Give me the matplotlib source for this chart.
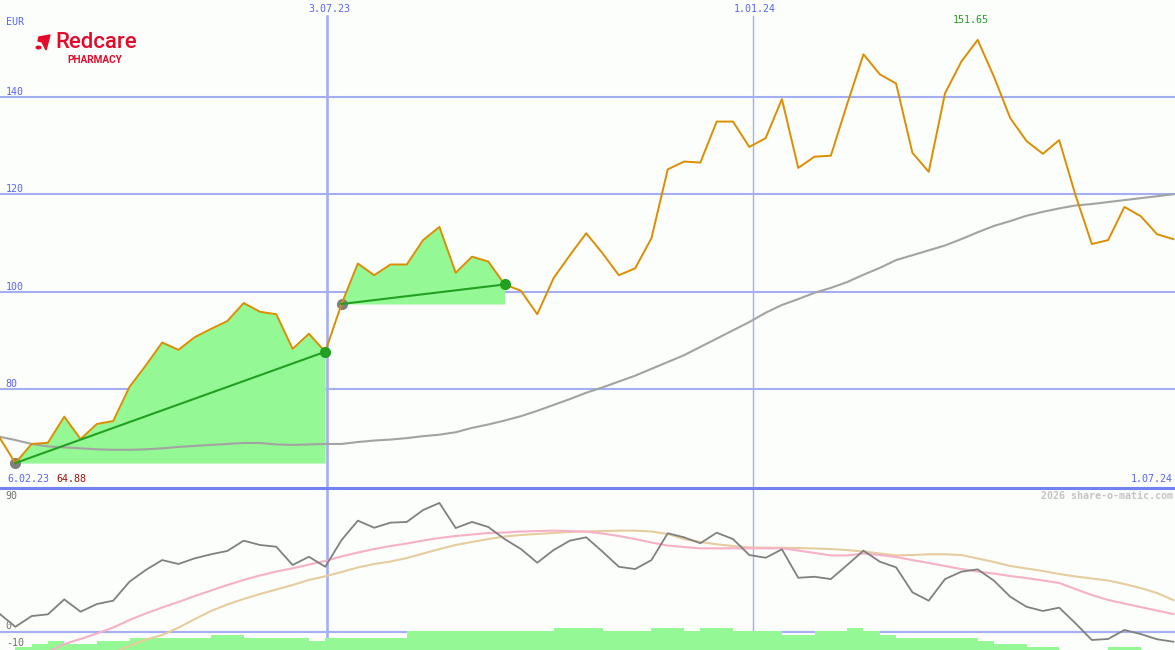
import matplotlib
matplotlib.use("Agg")
import matplotlib.pyplot as plt
from matplotlib.patches import Polygon, Circle
import numpy as np

W, H = 1175, 650
nan = np.nan

# weekly closes (EUR), one value per week
price = [70.3, 64.88, 68.8, 69.05, 74.4, 69.8, 72.9, 73.5, 80.5, 84.9,
         89.6, 88.1, 90.7, 92.4, 94.0, 97.7, 95.9, 95.4, 88.3, 91.4,
         87.7, 97.5, 105.8, 103.4, 105.6, 105.6, 110.6, 113.3, 103.9, 107.2,
         106.2, 101.5, 100.2, 95.4, 102.8, 107.5, 112.0, 107.9, 103.4, 104.8,
         111.0, 125.1, 126.7, 126.5, 134.9, 134.9, 129.7, 131.5, 139.5, 125.4,
         127.7, 127.9, 138.5, 148.7, 144.6, 142.7, 128.5, 124.6, 140.7, 147.2,
         151.65, 144.1, 135.6, 130.9, 128.3, 131.1, 119.8, 109.8, 110.6, 117.4,
         115.5, 111.8, 110.8]

# long moving average (gray)
ma_long = [70.3, 69.6, 68.8, 68.3, 68.1, 67.9, 67.7, 67.6, 67.6, 67.7,
           67.9, 68.2, 68.4, 68.6, 68.8, 69.0, 69.0, 68.7, 68.6, 68.7,
           68.8, 68.8, 69.2, 69.5, 69.7, 70.0, 70.4, 70.7, 71.2, 72.1,
           72.8, 73.6, 74.5, 75.6, 76.8, 78.0, 79.3, 80.4, 81.6, 82.8,
           84.2, 85.6, 87.0, 88.7, 90.4, 92.1, 93.8, 95.7, 97.3, 98.5,
           99.8, 100.8, 102.0, 103.5, 104.9, 106.5, 107.5, 108.5, 109.5, 110.8,
           112.2, 113.5, 114.5, 115.6, 116.4, 117.1, 117.7, 118.0, 118.4, 118.8,
           119.2, 119.6, 120.0]

# lower panel: oscillator and its two averages
osc = [12.7, 3.4, 10.8, 12.0, 22.3, 13.8, 19.1, 21.4, 34.5, 42.6,
       49.4, 46.7, 50.6, 53.4, 55.7, 62.8, 59.8, 58.6, 46.0, 51.7,
       44.8, 63.2, 76.6, 71.7, 75.2, 75.7, 83.9, 88.8, 71.5, 75.7,
       72.2, 63.9, 57.0, 47.6, 56.3, 62.8, 65.1, 55.2, 44.8, 43.2,
       49.4, 67.9, 65.1, 61.0, 68.3, 63.9, 52.9, 51.0, 56.8, 37.2,
       37.9, 36.3, 46.0, 55.9, 48.3, 44.4, 27.2, 21.4, 36.3, 41.4,
       43.0, 35.2, 24.1, 17.2, 14.3, 16.6, 5.8, -5.7, -5.0, 1.2,
       -1.6, -5.2, -6.9]

osc_fast = [nan, nan, nan, -14.0, -8.5, -5.0, -1.2, 2.9, 8.1, 12.6,
            16.7, 20.5, 24.6, 28.4, 32.2, 35.7, 38.8, 41.5, 43.7, 46.3,
            48.8, 51.9, 54.6, 57.0, 59.1, 60.8, 62.9, 64.6, 66.0, 67.0,
            68.1, 68.4, 69.1, 69.4, 69.7, 69.4, 69.0, 67.7, 66.0, 63.9,
            61.5, 59.4, 58.4, 57.5, 57.5, 57.5, 57.5, 57.5, 57.5, 56.0,
            54.3, 52.6, 52.6, 53.9, 52.9, 51.5, 49.4, 47.4, 45.3, 43.2,
            41.5, 40.1, 38.4, 37.0, 35.3, 33.6, 29.4, 25.3, 21.9, 19.4,
            17.0, 14.6, 12.2]

osc_slow = [nan, nan, nan, nan, nan, nan, nan, -14.7, -9.5, -5.4,
            -2.3, 2.8, 8.7, 14.3, 18.8, 22.6, 26.0, 29.1, 32.2, 35.7,
            38.2, 41.2, 44.3, 46.7, 48.4, 50.8, 53.9, 57.0, 59.8, 61.9,
            63.9, 65.7, 66.7, 67.4, 68.1, 68.8, 69.1, 69.4, 69.7, 69.7,
            69.1, 67.4, 63.9, 61.9, 60.3, 59.1, 58.1, 57.9, 57.9, 57.7,
            57.4, 57.0, 56.3, 55.3, 53.9, 52.6, 52.9, 53.4, 53.4, 52.9,
            50.5, 48.1, 45.3, 43.6, 41.9, 39.8, 38.1, 36.7, 35.3, 32.9,
            30.1, 26.7, 21.8]

# green histogram at the foot of the lower panel (top level of each bar)
bar_level = [nan, -10.8, -8.5, -6.4, -8.5, -8.5, -6.4, -6.4, -4.6, -4.6,
             -4.6, -4.6, -4.6, -2.3, -2.3, -4.6, -4.6, -4.6, -4.6, -6.4,
             -4.6, -4.6, -4.6, -4.6, -4.6, 0.5, 0.5, 0.5, 0.5, 0.5,
             0.5, 0.5, 0.5, 0.5, 2.8, 2.8, 2.8, 0.5, 0.5, 0.5,
             2.8, 2.8, 0.5, 2.8, 2.8, 0.5, 0.5, 0.5, -2.3, -2.3,
             0.5, 0.5, 2.8, 0.5, -2.3, -4.6, -4.6, -4.6, -4.6, -4.6,
             -6.4, -8.5, -8.5, -10.5, -10.5, nan, nan, nan, -10.5, -10.5,
             nan, nan, nan]

# trend segments (start week, end week)
seg_start = [1, 21]
seg_end = [20, 31]

price_ticks = [80, 100, 120, 140]
date_pos = [20.1, 46.2]
date_labels = ["3.07.23", "1.01.24"]
low_date, low_value = "6.02.23", "64.88"
high_label = "151.65"
end_date = "1.07.24"

BG = "#fcfefb"
GRID = "#a4aef2"
BLUE_TXT = "#5a64f0"
ORANGE = "#dc8e02"
FILL = "#94f894"
GREEN = "#22a022"
RED = "#e30a2b"
MONO = "DejaVu Sans Mono"
FS = 7.2

x = np.arange(len(price))
xlim = (0.06, 72.1)
TOP = 159.83
PXU = 4.877  # pixels per EUR in the price panel

fig = plt.figure(figsize=(W / 100, H / 100), dpi=100, facecolor=BG)
ax = fig.add_axes([0, 162 / H, 1, 488 / H], facecolor=BG)
ax2 = fig.add_axes([0, 0, 1, 162 / H], facecolor=BG)

for a in (ax, ax2):
    a.set_xlim(*xlim)
    a.set_xticks([])
    a.set_yticks([])
    for s in a.spines.values():
        s.set_visible(False)

# ---- price panel
ax.set_ylim(59.77, TOP)
ytr = ax.get_yaxis_transform()
for t in price_ticks:
    ax.axhline(t, color=GRID, lw=1.5, zorder=1)
    ax.text(0.005, t, str(t), color=BLUE_TXT, fontsize=FS, family=MONO,
            va="bottom", ha="left", zorder=6, transform=ytr)
ax.axvline(date_pos[0], ymax=(488 - 16) / 488, color=GRID, lw=1.9, zorder=1)
ax.axvline(date_pos[1], ymax=(488 - 16) / 488, color=GRID, lw=1.0, zorder=1)
for p, lab in zip(date_pos, date_labels):
    ax.text(p + 0.15, TOP - 9 / PXU, lab, color=BLUE_TXT, fontsize=FS,
            family=MONO, ha="center", va="center")

p = np.array(price)
for s, e in zip(seg_start, seg_end):
    xs = x[s:e + 1]
    ax.fill_between(xs, p[s], p[s:e + 1], color=FILL, lw=0, zorder=2)

ax.plot(x, ma_long, color="#a3a3a3", lw=1.5, zorder=3)

for s, e in zip(seg_start, seg_end):
    ax.plot(s, p[s], "o", color="#808080", ms=8, mew=0, zorder=3.5)

ax.plot(x, price, color=ORANGE, lw=1.4, zorder=4)

for s, e in zip(seg_start, seg_end):
    ax.plot([s, e], [p[s], p[e]], color=GREEN, lw=1.5, zorder=5)
    ax.plot(e, p[e], "o", color=GREEN, ms=8, mew=0, zorder=5)

ax.text(0.005, TOP - 21.7 / PXU, "EUR", color=BLUE_TXT, fontsize=FS,
        family=MONO, va="center", ha="left", transform=ytr)
peak = int(np.argmax(p))
ax.annotate(high_label, (peak, p[peak]), xytext=(-5, 14), textcoords="offset points",
            color="#22a022", fontsize=FS, family=MONO, ha="center", va="center")
ax.text(0.006, TOP - 479.3 / PXU, low_date, color=BLUE_TXT, fontsize=FS,
        family=MONO, va="center", ha="left", transform=ytr)
ax.text(0.0477, TOP - 479.3 / PXU, low_value, color="#a01010", fontsize=FS,
        family=MONO, va="center", ha="left", transform=ytr)
ax.text(0.998, TOP - 479.3 / PXU, end_date, color=BLUE_TXT, fontsize=FS,
        family=MONO, va="center", ha="right", transform=ytr)

# ---- oscillator panel
lo, hi = -12.6, 99.1
ax2.set_ylim(lo, hi)
ax2.axhline(0, color=GRID, lw=1.5, zorder=1)
ax2.axhline(hi, color="#7282f0", lw=2.2, zorder=7, clip_on=False)
ax2.axvline(date_pos[0], color=GRID, lw=1.9, zorder=1)
ax2.axvline(date_pos[1], color=GRID, lw=1.0, zorder=1)

lv = np.array(bar_level)
ax2.bar(x, lv - lo, bottom=lo, width=1.0, align="edge", color=FILL, lw=0, zorder=2)
ax2.plot(x, osc_slow, color="#e6cc9e", lw=1.5, zorder=3)
ax2.plot(x, osc_fast, color="#f6b0c8", lw=1.5, zorder=3)
ax2.plot(x, osc, color="#808080", lw=1.3, zorder=4)

tr = ax2.get_yaxis_transform()
for val, ypx in [("90", 496), ("0", 626), ("-10", 643)]:
    ax2.text(0.005, (631.7 - ypx) / 1.45, val, color="#707070", fontsize=FS,
             family=MONO, va="center", ha="left", transform=tr)
ax2.text(0.998, (631.7 - 495.7) / 1.45, "2026 share-o-matic.com", color="#c4c4c4",
         fontsize=FS, family=MONO, weight="bold", va="center", ha="right", transform=tr)

# ---- logo
def fpx(px, py):
    return (px / W, 1 - py / H)

fig.add_artist(Polygon([fpx(39, 37), fpx(50, 35), fpx(46, 50), fpx(42, 42), fpx(38, 41)],
                       closed=True, color=RED, transform=fig.transFigure))
fig.add_artist(Circle(fpx(38.5, 47.5), 2.3 / W, color=RED, transform=fig.transFigure))
fig.text(*fpx(55, 43), "Redcare", color=RED, fontsize=16, family="Roboto",
         weight="medium", va="center", ha="left")
fig.text(*fpx(67, 60), "PHARMACY", color=RED, fontsize=7.2, family="Roboto",
         weight="bold", va="center", ha="left")

fig.savefig("out.png", dpi=100, facecolor=BG)
